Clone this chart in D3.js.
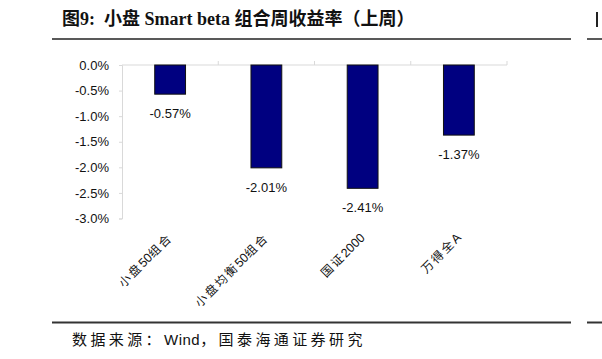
<!DOCTYPE html>
<html><head><meta charset="utf-8">
<script src="https://cdn.jsdelivr.net/npm/d3@7/dist/d3.min.js"></script>
<style>
body{margin:0;background:#fff;}
svg{display:block;}
text{white-space:pre;}
</style></head>
<body>
<svg id="c" width="602" height="359"></svg>
<script>
const categories = ["小盘50组合", "小盘均衡50组合", "国证2000", "万得全A"];
const values = [-0.57, -2.01, -2.41, -1.37];
const yTicks = [0, -0.5, -1.0, -1.5, -2.0, -2.5, -3.0];
const title = "图9:  小盘 Smart beta 组合周收益率（上周）";
const sourceParts = ["数据来源：", "Wind", "，国泰海通证券研究"];

const svg = d3.select("#c");
const margin = {left: 122, right: 95, top: 65, bottom: 141};
const W = 602, H = 359;

const x = d3.scaleBand().domain(categories)
  .range([margin.left, W - margin.right])
  .paddingInner(0.68).paddingOuter(0.34);
const xEdge = d3.scaleBand().domain(categories).range([margin.left, W - margin.right]).padding(0);
const y = d3.scaleLinear().domain([-3, 0]).range([H - margin.bottom + 0.5, margin.top]);

const latin = "Arial, 'Liberation Sans', sans-serif";
const mixed = "Arial, 'Liberation Sans', 'Noto Sans CJK SC', sans-serif";
const pct = (d, n) => d.toFixed(n) + "%";
const isCJK = s => /[\u3000-\u9fff\uff00-\uffef]/.test(s);
const runs = s => s.match(/[\u3000-\u9fff\uff00-\uffef]+|[^\u3000-\u9fff\uff00-\uffef]+/g);

// title
svg.append("text").attr("x", 62).attr("y", 25)
  .attr("font-family", "'Liberation Serif', 'Times New Roman', 'Noto Sans CJK SC', serif")
  .attr("font-weight", "bold").attr("font-size", 18).attr("fill", "#111")
  .text(title);
svg.append("line").attr("x1", 52).attr("x2", 571).attr("y1", 39).attr("y2", 39)
  .attr("stroke", "#222").attr("stroke-width", 1.5);
svg.append("line").attr("x1", 587).attr("x2", 602).attr("y1", 39).attr("y2", 39)
  .attr("stroke", "#222").attr("stroke-width", 1.5);
svg.append("line").attr("x1", 597).attr("x2", 597).attr("y1", 12).attr("y2", 27)
  .attr("stroke", "#222").attr("stroke-width", 2);

// y axis
const yAxis = d3.axisLeft(y).tickValues(yTicks).tickSize(3).tickPadding(10)
  .tickFormat(d => pct(d, 1));
const gy = svg.append("g").attr("transform", `translate(${margin.left},0)`).call(yAxis);
gy.select(".domain").attr("stroke", "#d9d9d9");
gy.selectAll(".tick line").attr("stroke", "#d9d9d9");
gy.selectAll(".tick text").attr("font-family", latin).attr("font-size", 13).attr("fill", "#111");

// x axis at zero (top)
const gx = svg.append("g").attr("transform", `translate(0,${y(0)})`);
gx.append("line").attr("x1", margin.left).attr("x2", W - margin.right).attr("y1", 0).attr("y2", 0)
  .attr("stroke", "#d9d9d9");
const edges = categories.map(c => xEdge(c) + xEdge.bandwidth());
gx.selectAll("line.tk").data(edges).join("line").attr("class", "tk")
  .attr("x1", d => d).attr("x2", d => d).attr("y1", 0).attr("y2", -4)
  .attr("stroke", "#d9d9d9");

// bars
svg.selectAll("rect.bar").data(values).join("rect").attr("class", "bar")
  .attr("x", (d, i) => x(categories[i]))
  .attr("width", x.bandwidth())
  .attr("y", y(0))
  .attr("height", d => y(d) - y(0))
  .attr("fill", "#000080").attr("stroke", "#111").attr("stroke-width", 1);

// value labels
svg.selectAll("text.val").data(values).join("text").attr("class", "val")
  .attr("x", (d, i) => x(categories[i]) + x.bandwidth() / 2)
  .attr("y", d => y(d) + 24)
  .attr("text-anchor", "middle")
  .attr("font-family", latin).attr("font-size", 13).attr("fill", "#111")
  .text(d => pct(d, 2));

// category labels
const cats = svg.selectAll("text.cat").data(categories).join("text").attr("class", "cat")
  .attr("transform", d => `translate(${x(d) + x.bandwidth() / 2},${y(-3) + 17}) rotate(-45)`)
  .attr("text-anchor", "end").attr("dy", "0.35em")
  .attr("font-family", mixed)
  .attr("font-size", 12).attr("fill", "#111");
cats.selectAll("tspan").data(d => runs(d)).join("tspan")
  .attr("letter-spacing", s => isCJK(s) ? 2 : 0)
  .attr("font-size", s => isCJK(s) ? 12 : 12.5)
  .text(s => s);

// footer
svg.append("line").attr("x1", 52).attr("x2", 571).attr("y1", 322.5).attr("y2", 322.5)
  .attr("stroke", "#333").attr("stroke-width", 2);
svg.append("line").attr("x1", 587).attr("x2", 602).attr("y1", 322.5).attr("y2", 322.5)
  .attr("stroke", "#333").attr("stroke-width", 2);
const src = svg.append("text").attr("x", 72).attr("y", 345)
  .attr("font-family", mixed).attr("font-size", 15).attr("fill", "#111");
src.selectAll("tspan").data(sourceParts).join("tspan")
  .attr("letter-spacing", (d, i) => i === 1 ? 0.5 : 3.4)
  .text(d => d);
</script>
</body></html>
